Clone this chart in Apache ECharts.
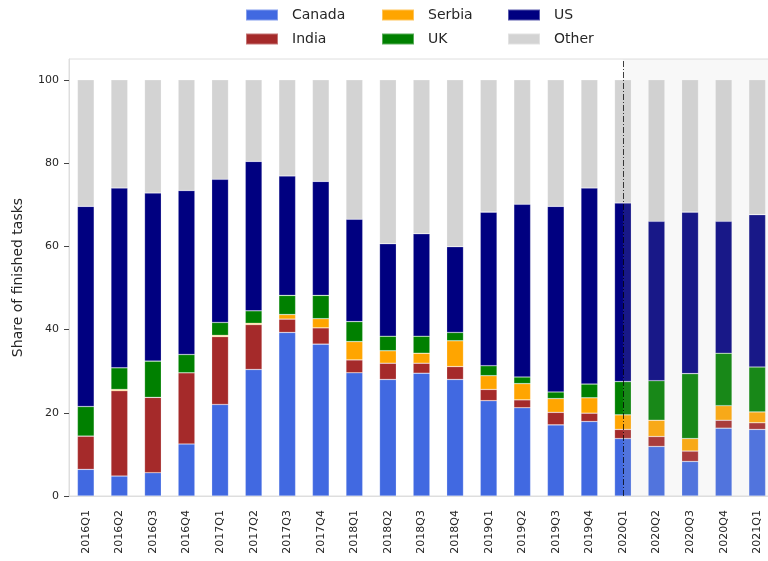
<!DOCTYPE html>
<html>
<head>
<meta charset="utf-8">
<script src="https://cdn.jsdelivr.net/npm/echarts@6/dist/echarts.min.js"></script>
<style>html,body{margin:0;padding:0;background:#fff}#c{width:768px;height:561px}</style>
</head>
<body>
<div id="c"></div>
<script>
const categories = ['2016Q1','2016Q2','2016Q3','2016Q4','2017Q1','2017Q2','2017Q3','2017Q4','2018Q1','2018Q2','2018Q3','2018Q4','2019Q1','2019Q2','2019Q3','2019Q4','2020Q1','2020Q2','2020Q3','2020Q4','2021Q1'];
const canada = [6.4, 4.8, 5.6, 12.5, 22.0, 30.4, 39.3, 36.5, 29.6, 28.0, 29.5, 28.0, 22.9, 21.2, 17.1, 17.9, 13.8, 11.9, 8.3, 16.3, 16.0];
const india  = [8.0, 20.5, 18.1, 17.1, 16.3, 10.8, 3.2, 3.9, 3.1, 3.9, 2.4, 3.1, 2.7, 1.9, 3.0, 2.0, 2.2, 2.4, 2.5, 1.9, 1.6];
const serbia = [0.0, 0.3, 0.0, 0.0, 0.3, 0.3, 1.1, 2.2, 4.4, 3.0, 2.4, 6.2, 3.3, 3.9, 3.3, 3.7, 3.5, 3.9, 3.0, 3.5, 2.6];
const uk     = [7.1, 5.2, 8.7, 4.4, 3.1, 3.0, 4.6, 5.6, 4.8, 3.5, 4.1, 2.0, 2.4, 1.6, 1.6, 3.3, 8.0, 9.5, 15.6, 12.6, 10.8];
const us     = [48.1, 43.2, 40.4, 39.4, 34.4, 35.9, 28.7, 27.4, 24.6, 22.2, 24.6, 20.6, 36.9, 41.5, 44.6, 47.1, 42.9, 38.3, 38.8, 31.7, 36.6];
const other  = [30.4, 26.0, 27.2, 26.6, 23.9, 19.6, 23.1, 24.4, 33.5, 39.4, 37.0, 40.1, 31.8, 29.9, 30.4, 26.0, 29.6, 34.0, 31.8, 34.0, 32.4];
const yTicks = [0, 20, 40, 60, 80, 100];
const forecastStart = '2020Q1';

const seriesDefs = [
  ['Canada', canada, '#4169E1'],
  ['India', india, '#A52A2A'],
  ['Serbia', serbia, '#FFA500'],
  ['UK', uk, '#008000'],
  ['US', us, '#000080'],
  ['Other', other, '#D3D3D3']
];
const startIdx = categories.indexOf(forecastStart);

const chart = echarts.init(document.getElementById('c'), null, {renderer: 'canvas'});
const font = 'DejaVu Sans';
const series = seriesDefs.map(([name, data, color]) => ({
  name, type: 'bar', stack: 'total', data, barWidth: '50%',
  itemStyle: {color, borderColor: 'rgba(255,255,255,0.35)', borderWidth: 0.6},
  emphasis: {disabled: true}, animation: false
}));
series.push({
  type: 'line', xAxisIndex: 1, yAxisIndex: 0, data: [], symbol: 'none', silent: true, z: 10, animation: false,
  markArea: {silent: true, z: 10, itemStyle: {color: 'rgba(200,200,200,0.12)'},
    data: [[{xAxis: startIdx, yAxis: 0}, {xAxis: categories.length - 0.5, yAxis: 105}]]},
  markLine: {silent: true, z: 11, symbol: ['none','none'], label: {show: false},
    lineStyle: {color: 'rgba(0,0,0,0.75)', type: [6, 2, 1, 2], width: 1},
    data: [[{xAxis: startIdx, yAxis: 0}, {xAxis: startIdx, yAxis: 105}]]}
});

const legendCommon = {
  orient: 'vertical', itemWidth: 32, itemHeight: 11, itemGap: 8, padding: 0,
  icon: 'rect', textStyle: {fontFamily: font, fontSize: 14, color: '#262626', lineHeight: 16, padding: [0,0,0,9]},
  selectedMode: false
};

chart.setOption({
  animation: false,
  textStyle: {fontFamily: font},
  legend: [
    Object.assign({left: 245, top: 7, data: ['Canada', 'India']}, legendCommon),
    Object.assign({left: 381, top: 7, data: ['Serbia', 'UK']}, legendCommon),
    Object.assign({left: 507, top: 7, data: ['US', 'Other']}, legendCommon)
  ],
  grid: {left: 69, top: 59, width: 705, bottom: 65, show: true, borderColor: '#dedede', borderWidth: 1,
    containLabel: false, outerBoundsMode: 'none'},
  xAxis: [{
    type: 'category', data: categories,
    axisLine: {onZero: false, lineStyle: {color: '#dedede'}},
    axisTick: {alignWithLabel: true, length: 5, lineStyle: {color: '#444'}},
    axisLabel: {rotate: 90, fontSize: 11, color: '#262626', fontFamily: font, margin: 14, interval: 0},
    splitLine: {show: false}
  }, {
    type: 'value', min: -0.5, max: categories.length - 0.5, show: false
  }],
  yAxis: {
    type: 'value', min: 0, max: 105, interval: 20,
    axisLine: {show: true, onZero: false, lineStyle: {color: '#dedede'}},
    axisTick: {show: true, length: 5, lineStyle: {color: '#444'}, customValues: yTicks},
    axisLabel: {fontSize: 11, color: '#262626', fontFamily: font, margin: 10,
      customValues: yTicks},
    splitLine: {show: false},
    name: 'Share of finished tasks', nameLocation: 'middle', nameGap: 44,
    nameTextStyle: {fontSize: 14, color: '#262626', fontFamily: font}
  },
  series
});
</script>
</body>
</html>
